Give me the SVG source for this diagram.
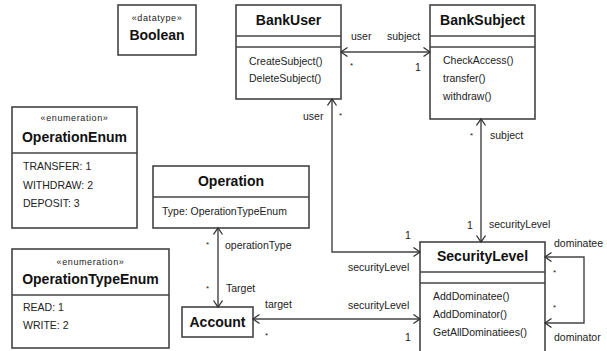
<svg xmlns="http://www.w3.org/2000/svg" width="607" height="351" viewBox="0 0 607 351">
<defs>
<marker id="arr" markerUnits="userSpaceOnUse" markerWidth="12" markerHeight="12" refX="7" refY="5" orient="auto-start-reverse">
<path d="M0.5,0.5 L7,5 L0.5,9.5" fill="none" stroke="#333" stroke-width="1.3"/>
</marker>
</defs>
<style>
.box{fill:#fff;stroke:#444;stroke-width:1.6}
.div{stroke:#444;stroke-width:1.4}
.title{font-family:"Liberation Sans",Arial,sans-serif;font-size:14px;font-weight:bold;fill:#111;text-anchor:middle}
.st{font-family:"Liberation Sans",Arial,sans-serif;font-size:9px;letter-spacing:0.6px;fill:#222;text-anchor:middle}
.m{font-family:"Liberation Sans",Arial,sans-serif;font-size:10.5px;fill:#222}
.lb{font-family:"Liberation Sans",Arial,sans-serif;font-size:10.5px;fill:#222}
.ast{font-family:"Liberation Sans",Arial,sans-serif;font-size:8px;fill:#222}
.edge{fill:none;stroke:#444;stroke-width:1.4;marker-start:url(#arr);marker-end:url(#arr)}
</style>
<rect width="607" height="351" fill="#fff"/>

<g id="Boolean">
<rect class="box" x="118" y="5" width="78" height="50"/>
<text class="st" x="157" y="21">«datatype»</text>
<text class="title" x="157" y="40">Boolean</text>
</g>

<g id="BankUser">
<rect class="box" x="236" y="5" width="105" height="94"/>
<line class="div" x1="236" y1="36" x2="341" y2="36"/>
<line class="div" x1="236" y1="47" x2="341" y2="47"/>
<text class="title" x="288.5" y="25">BankUser</text>
<text class="m" x="249" y="65">CreateSubject()</text>
<text class="m" x="249" y="82">DeleteSubject()</text>
</g>

<g id="BankSubject">
<rect class="box" x="430" y="5" width="105" height="114"/>
<line class="div" x1="430" y1="36" x2="535" y2="36"/>
<line class="div" x1="430" y1="47" x2="535" y2="47"/>
<text class="title" x="482.5" y="25">BankSubject</text>
<text class="m" x="443" y="64">CheckAccess()</text>
<text class="m" x="443" y="82">transfer()</text>
<text class="m" x="443" y="100">withdraw()</text>
</g>

<g id="OperationEnum">
<rect class="box" x="12" y="107" width="125" height="121"/>
<line class="div" x1="12" y1="153" x2="137" y2="153"/>
<text class="st" x="74.5" y="121">«enumeration»</text>
<text class="title" x="74.5" y="142">OperationEnum</text>
<text class="m" x="23" y="170">TRANSFER: 1</text>
<text class="m" x="23" y="189">WITHDRAW: 2</text>
<text class="m" x="23" y="207">DEPOSIT: 3</text>
</g>

<g id="OperationTypeEnum">
<rect class="box" x="12" y="249" width="157" height="99"/>
<line class="div" x1="12" y1="295" x2="169" y2="295"/>
<text class="st" x="90.5" y="265">«enumeration»</text>
<text class="title" x="90.5" y="284">OperationTypeEnum</text>
<text class="m" x="23" y="311">READ: 1</text>
<text class="m" x="23" y="329">WRITE: 2</text>
</g>

<g id="Operation">
<rect class="box" x="153" y="166" width="156" height="62"/>
<line class="div" x1="153" y1="197" x2="309" y2="197"/>
<text class="title" x="231" y="186">Operation</text>
<text class="m" x="162" y="215">Type: OperationTypeEnum</text>
</g>

<g id="Account">
<rect class="box" x="182" y="307" width="71" height="30"/>
<text class="title" x="217.5" y="327">Account</text>
</g>

<g id="SecurityLevel">
<rect class="box" x="420" y="242" width="125" height="112"/>
<line class="div" x1="420" y1="272" x2="545" y2="272"/>
<line class="div" x1="420" y1="283" x2="545" y2="283"/>
<text class="title" x="482.5" y="261">SecurityLevel</text>
<text class="m" x="433" y="300">AddDominatee()</text>
<text class="m" x="433" y="318">AddDominator()</text>
<text class="m" x="433" y="336">GetAllDominatiees()</text>
</g>

<g id="connectors">
<path class="edge" d="M341,52 H430"/>
<path class="edge" d="M332,99 V252 H420"/>
<path class="edge" d="M481,119 V242"/>
<path class="edge" d="M218,228 V307"/>
<path class="edge" d="M253,319 H420"/>
<path class="edge" d="M545,257 H584 V323 H545"/>

<text class="lb" x="351" y="40">user</text>
<text class="lb" x="387" y="40">subject</text>
<text class="ast" x="350" y="68">*</text>
<text class="lb" x="415" y="71">1</text>

<text class="lb" x="303" y="120">user</text>
<text class="ast" x="339" y="118">*</text>
<text class="lb" x="405" y="239">1</text>
<text class="lb" x="348" y="271">securityLevel</text>

<text class="ast" x="470" y="138">*</text>
<text class="lb" x="490" y="139">subject</text>
<text class="lb" x="467" y="229">1</text>
<text class="lb" x="489" y="228">securityLevel</text>

<text class="ast" x="206" y="247">*</text>
<text class="lb" x="225" y="249">operationType</text>
<text class="ast" x="206" y="291">*</text>
<text class="lb" x="226" y="292">Target</text>

<text class="lb" x="265" y="308">target</text>
<text class="ast" x="265" y="338">*</text>
<text class="lb" x="348" y="309">securityLevel</text>
<text class="lb" x="405" y="341">1</text>

<text class="lb" x="554" y="247">dominatee</text>
<text class="ast" x="553" y="275">*</text>
<text class="ast" x="553" y="310">*</text>
<text class="lb" x="554" y="341">dominator</text>
</g>
</svg>
